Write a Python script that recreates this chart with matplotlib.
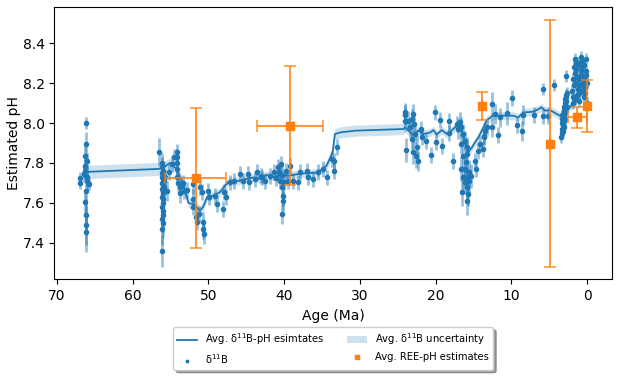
import matplotlib
matplotlib.use("Agg")
import matplotlib.pyplot as plt
import numpy as np

## ----- data ----- ##

# avg d11B-pH estimate (line) and its uncertainty (band half-width)
avg_age = [66.5, 66.2, 56.6, 56.0, 55.1, 54.2, 53.4, 52.65, 51.8, 51.1, 50.7, 50.2,
           49.4, 48.5, 47.8, 47.2, 46.0, 45.0, 44.1, 43.2, 42.3, 41.4, 40.1, 39.5,
           38.0, 37.2, 35.5, 34.4, 33.6, 33.3, 32.6, 30.6, 24.3, 24.0, 22.9, 22.3,
           21.6, 20.7, 20.3, 19.85, 19.2, 18.5, 17.9, 17.2, 16.55, 16.1, 15.7, 15.2,
           14.8, 14.35, 13.7, 13.25, 12.4, 9.7, 9.1, 8.4, 7.1, 6.4, 6.0, 5.55, 4.9,
           3.6, 3.1, 2.5, 1.6, 1.0, 0.3]
avg_ph = [7.753, 7.755, 7.77, 7.775, 7.80, 7.77, 7.70, 7.60, 7.59, 7.56, 7.58, 7.627,
          7.636, 7.653, 7.686, 7.71, 7.71, 7.72, 7.727, 7.72, 7.74, 7.73, 7.74, 7.736,
          7.745, 7.748, 7.752, 7.786, 7.853, 7.945, 7.953, 7.962, 7.97, 7.978, 7.937, 7.962,
          7.945, 7.953, 7.965, 7.942, 7.965, 7.945, 7.962, 7.987, 7.962, 7.903, 7.853, 7.878,
          7.903, 7.928, 7.978, 8.015, 8.037, 8.037, 8.028, 8.053, 8.057, 8.07, 8.079, 8.062, 8.065,
          8.037, 8.03, 8.07, 8.11, 8.15, 8.18]
avg_unc = [0.033, 0.033, 0.033, 0.03, 0.025, 0.025, 0.025, 0.025, 0.025, 0.025, 0.025, 0.02,
           0.02, 0.02, 0.02, 0.02, 0.02, 0.02, 0.02, 0.02, 0.02, 0.02, 0.02, 0.02,
           0.02, 0.02, 0.02, 0.022, 0.025, 0.028, 0.028, 0.028, 0.028, 0.025, 0.02, 0.02,
           0.02, 0.02, 0.02, 0.02, 0.02, 0.02, 0.02, 0.02, 0.02, 0.02, 0.02, 0.02,
           0.02, 0.02, 0.02, 0.02, 0.02, 0.02, 0.02, 0.02, 0.02, 0.02, 0.02, 0.02, 0.02,
           0.02, 0.02, 0.02, 0.02, 0.02, 0.02]

# d11B-derived pH points
b_age = [66.96, 66.96, 66.4, 66.26, 66.17, 66.17, 66.0, 66.26, 66.26, 66.0, 65.73, 66.1,
         66.17, 66.26, 66.17, 66.17, 66.17,
         56.49, 56.09, 56.2, 56.1, 56.0, 56.15, 55.95, 56.1, 56.05, 55.9, 56.1, 56.0,
         55.85, 56.1, 55.95, 56.05, 56.1, 55.95, 56.05, 56.1, 56.0, 56.05, 56.1, 56.05,
         56.1, 55.74, 55.5, 55.17, 54.85, 54.6, 54.1, 54.1, 54.1, 54.1, 54.1, 54.05,
         53.75, 53.8, 53.4, 53.24, 52.8, 52.1, 52.08, 52.0, 51.68, 51.55, 51.2, 51.1,
         50.89, 50.76, 50.67, 50.58, 50.0, 49.88, 49.13, 48.9, 48.1, 48.0, 47.68, 47.15,
         46.58, 45.83, 45.4, 44.8, 44.6, 43.85, 43.6, 43.05, 42.97, 42.5, 41.87, 41.4,
         41.1, 40.85, 40.7, 40.55, 40.41, 40.3, 40.24, 40.2, 40.2, 40.24, 39.97, 39.8,
         39.45, 39.2, 38.8, 38.2, 37.9, 37.02, 36.9, 36.14, 35.5, 34.83, 34.4, 33.65,
         33.4, 33.38, 32.98,
         24.03, 24.03, 23.9, 24.03, 23.6, 23.37, 23.15, 22.94, 22.8, 22.7, 23.15, 22.94,
         22.6, 22.28, 22.5, 21.97, 21.84, 21.26, 20.6, 20.07, 19.98, 19.4, 19.1, 18.22,
         18.18, 17.65, 17.2, 17.0, 16.77, 16.6, 16.34, 16.1, 15.9, 15.8, 16.34, 16.0,
         16.7, 16.1, 16.42, 15.8, 16.1, 15.54, 16.46, 15.9, 15.76, 15.9, 16.7, 15.54,
         15.36, 14.79, 14.65, 14.35, 14.13, 13.57, 13.25, 13.77, 13.6, 13.45, 12.54, 12.6,
         12.15, 11.7, 11.55, 10.53, 9.86, 9.2, 8.54, 8.45, 6.95, 5.77, 5.77, 5.19,
         4.35, 2.81,
         3.4, 3.3, 3.35, 3.2, 3.3, 3.1, 3.25, 3.0, 3.15, 2.95, 3.05, 2.9, 3.1, 2.85, 2.95,
         2.8, 2.9, 2.75, 2.8, 2.7, 3.2, 3.0, 2.85, 3.3, 2.7,
         1.9, 1.8, 1.95, 1.7, 1.85, 1.6, 1.75, 1.5, 1.65, 1.4, 1.3, 1.45, 1.2, 1.35, 1.1,
         1.0, 0.9, 1.05, 0.8, 0.95, 0.7, 0.6, 0.75, 0.5, 0.65, 0.4, 0.3, 0.45, 0.2, 0.35,
         0.1, 0.15, 0.05, 0.25, 0.0, 1.55, 1.25, 0.85]
b_ph = [7.725, 7.70, 7.745, 7.836, 8.00, 7.895, 7.81, 7.787, 7.76, 7.73, 7.695, 7.71,
        7.66, 7.606, 7.54, 7.49, 7.455,
        7.856, 7.36, 7.80, 7.78, 7.76, 7.75, 7.74, 7.73, 7.72, 7.71, 7.70, 7.69,
        7.68, 7.67, 7.66, 7.65, 7.63, 7.62, 7.60, 7.58, 7.56, 7.54, 7.52, 7.50,
        7.47, 7.727, 7.66, 7.756, 7.795, 7.828, 7.853, 7.828, 7.80, 7.77, 7.727, 7.70,
        7.677, 7.65, 7.70, 7.66, 7.664, 7.695, 7.619, 7.577, 7.527, 7.502, 7.544, 7.68,
        7.652, 7.502, 7.469, 7.444, 7.66, 7.627, 7.636, 7.594, 7.569, 7.652, 7.627, 7.702,
        7.711, 7.745, 7.711, 7.745, 7.702, 7.72, 7.753, 7.736, 7.727, 7.711, 7.736, 7.753,
        7.725, 7.778, 7.753, 7.711, 7.795, 7.74, 7.677, 7.636, 7.61, 7.544, 7.702, 7.76,
        7.711, 7.786, 7.711, 7.702, 7.753, 7.761, 7.727, 7.72, 7.753, 7.77, 7.727, 7.82,
        7.811, 7.761, 7.878,
        8.053, 8.012, 7.865, 8.042, 8.012, 7.978, 8.02, 8.045, 7.995, 7.945, 7.92, 7.853,
        7.836, 7.811, 7.878, 7.97, 7.928, 7.912, 7.841, 8.053, 7.903, 8.015, 7.886, 8.008,
        7.948, 7.811, 7.995, 7.97, 8.003, 7.978, 7.945, 7.912, 7.878, 7.845, 7.836, 7.803,
        7.77, 7.77, 7.727, 7.727, 7.702, 7.711, 7.652, 7.677, 7.644, 7.61, 7.895, 7.753,
        7.736, 7.811, 7.77, 7.862, 7.895, 7.937, 7.978, 7.87, 7.928, 7.962, 8.095, 7.982,
        8.045, 7.942, 8.028, 8.048, 8.126, 7.992, 7.962, 8.042, 8.042, 8.171, 8.037, 8.037,
        8.192, 8.237,
        7.93, 7.95, 7.97, 7.99, 8.00, 8.01, 8.02, 8.03, 8.04, 8.05, 8.06, 8.07, 8.08, 8.09, 8.10,
        8.11, 8.12, 8.13, 8.14, 8.15, 7.96, 7.98, 8.02, 8.04, 8.08,
        8.10, 8.13, 8.16, 8.19, 8.22, 8.25, 8.28, 8.30, 8.32, 8.27, 8.23, 8.20, 8.17, 8.14, 8.11,
        8.15, 8.19, 8.22, 8.26, 8.29, 8.31, 8.28, 8.24, 8.20, 8.16, 8.13, 8.18, 8.22, 8.26, 8.29,
        8.32, 8.24, 8.20, 8.15, 8.10, 8.12, 8.30, 8.33]
b_err = [0.03, 0.03, 0.04, 0.05, 0.03, 0.06, 0.04, 0.05, 0.04, 0.05, 0.03, 0.05,
         0.05, 0.06, 0.08, 0.10, 0.10,
         0.07, 0.08, 0.05, 0.05, 0.04, 0.04, 0.05, 0.04, 0.05, 0.04, 0.05, 0.04,
         0.05, 0.05, 0.04, 0.05, 0.05, 0.06, 0.05, 0.06, 0.06, 0.06, 0.07, 0.07,
         0.08, 0.04, 0.05, 0.04, 0.04, 0.04, 0.04, 0.04, 0.05, 0.05, 0.04, 0.04,
         0.04, 0.05, 0.04, 0.04, 0.04, 0.05, 0.05, 0.04, 0.04, 0.04, 0.04, 0.04,
         0.04, 0.05, 0.05, 0.05, 0.04, 0.04, 0.04, 0.04, 0.04, 0.04, 0.04, 0.04,
         0.04, 0.04, 0.04, 0.04, 0.04, 0.04, 0.04, 0.04, 0.04, 0.04, 0.04, 0.04,
         0.04, 0.04, 0.04, 0.04, 0.04, 0.05, 0.05, 0.05, 0.05, 0.05, 0.04, 0.04,
         0.04, 0.04, 0.04, 0.04, 0.04, 0.04, 0.04, 0.04, 0.04, 0.04, 0.04, 0.04,
         0.04, 0.04, 0.04,
         0.05, 0.05, 0.06, 0.05, 0.05, 0.05, 0.05, 0.05, 0.05, 0.05, 0.05, 0.06,
         0.06, 0.05, 0.06, 0.04, 0.04, 0.04, 0.04, 0.04, 0.04, 0.04, 0.04, 0.04,
         0.04, 0.04, 0.04, 0.05, 0.05, 0.05, 0.05, 0.05, 0.05, 0.06, 0.06, 0.06,
         0.06, 0.06, 0.06, 0.06, 0.06, 0.06, 0.07, 0.06, 0.06, 0.07, 0.05, 0.06,
         0.06, 0.04, 0.04, 0.04, 0.04, 0.04, 0.04, 0.04, 0.04, 0.04, 0.06, 0.05,
         0.05, 0.04, 0.05, 0.06, 0.04, 0.04, 0.05, 0.05, 0.04, 0.03, 0.04, 0.04,
         0.03, 0.03,
         0.03, 0.03, 0.03, 0.03, 0.03, 0.03, 0.03, 0.03, 0.03, 0.03, 0.03, 0.03, 0.03, 0.03, 0.03,
         0.03, 0.03, 0.03, 0.03, 0.03, 0.03, 0.03, 0.03, 0.03, 0.03,
         0.03, 0.03, 0.03, 0.03, 0.03, 0.03, 0.03, 0.03, 0.03, 0.03, 0.03, 0.03, 0.03, 0.03, 0.03,
         0.03, 0.03, 0.03, 0.03, 0.03, 0.03, 0.03, 0.03, 0.03, 0.03, 0.03, 0.03, 0.03, 0.03, 0.03,
         0.03, 0.03, 0.03, 0.03, 0.03, 0.03, 0.03, 0.03]

# REE-derived pH estimates
ree_age = [51.7, 39.2, 13.85, 4.85, 1.3, 0.0]
ree_age_err = [4.0, 4.35, 0.0, 0.0, 1.25, 0.0]
ree_ph = [7.725, 7.987, 8.087, 7.897, 8.028, 8.087]
ree_ph_err = [0.35, 0.30, 0.07, 0.62, 0.055, 0.13]

## ----- plot ----- ##
blue = "#1f77b4"
orange = "#ff7f0e"

fig = plt.figure(figsize=(6.19, 3.77), dpi=100)
ax = fig.add_axes([0.0877, 0.2592, 0.9015, 0.7214])

avg_lo = np.array(avg_ph) - np.array(avg_unc)
avg_hi = np.array(avg_ph) + np.array(avg_unc)
band = ax.fill_between(avg_age, avg_lo, avg_hi, color=blue, alpha=0.22, lw=0,
                       label="Avg. δ$^{11}$B uncertainty")
line, = ax.plot(avg_age, avg_ph, color=blue, lw=1.3, label="Avg. δ$^{11}$B-pH esimtates")

ax.errorbar(b_age, b_ph, yerr=b_err, fmt="none", ecolor=blue, alpha=0.45, elinewidth=2)
pts = ax.scatter(b_age, b_ph, s=9, color=blue, zorder=3, label="δ$^{11}$B")

ax.errorbar(ree_age, ree_ph, xerr=ree_age_err, yerr=ree_ph_err, fmt="none",
            ecolor=orange, alpha=0.8, elinewidth=1.5, capsize=4.5, capthick=1.2, zorder=4)
ree = ax.scatter(ree_age, ree_ph, s=32, marker="s", color=orange, zorder=5,
                 label="Avg. REE-pH estimates")

ax.set_xlim(70.36, -3.34)
ax.set_ylim(7.2165, 8.5805)
ax.set_xticks([70, 60, 50, 40, 30, 20, 10, 0])
ax.set_yticks([7.4, 7.6, 7.8, 8.0, 8.2, 8.4])
ax.tick_params(labelsize=10)
ax.set_xlabel("Age (Ma)", fontsize=10)
ax.set_ylabel("Estimated pH", fontsize=10, labelpad=1)

fig.legend([line, pts, band, ree],
           [line.get_label(), pts.get_label(), band.get_label(), ree.get_label()],
           loc="upper center", bbox_to_anchor=(0.5385, 0.132), borderaxespad=0,
           ncol=2, fontsize=7.2, shadow=True, columnspacing=2.3, markerscale=0.6)

fig.savefig("out.png", dpi=100)
